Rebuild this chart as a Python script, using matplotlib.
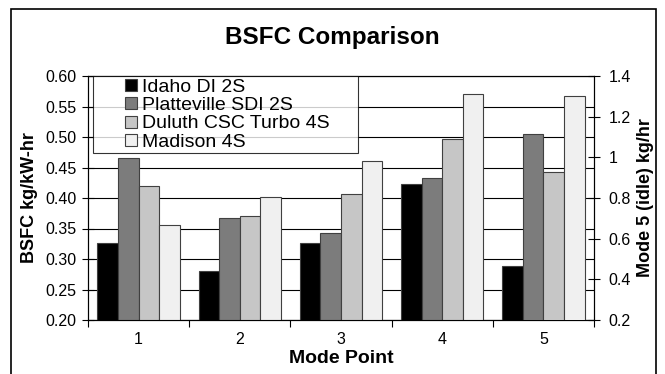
import numpy as np
import matplotlib
matplotlib.use("Agg")
import matplotlib.pyplot as plt
from matplotlib.patches import Rectangle
from matplotlib.lines import Line2D

plt.rcParams['font.family'] = ['Liberation Sans', 'DejaVu Sans']

# data
modes = ['1', '2', '3', '4', '5']
series = ['Idaho DI 2S', 'Platteville SDI 2S', 'Duluth CSC Turbo 4S', 'Madison 4S']
# modes 1-4: BSFC kg/kW-hr (left axis)
idaho = [0.326, 0.281, 0.327, 0.423]
platteville = [0.466, 0.367, 0.343, 0.433]
duluth = [0.420, 0.371, 0.406, 0.496]
madison = [0.355, 0.402, 0.461, 0.571]
# mode 5 (idle): kg/hr (right axis)
mode5 = [0.465, 1.117, 0.927, 1.303]

colors = ['#000000', '#7c7c7c', '#c6c6c6', '#f0f0f0']
edge = '#404040'

fig = plt.figure(figsize=(6.65, 3.74), dpi=100)
ax = fig.add_axes([88 / 665, 1 - 320 / 374, 506 / 665, 244 / 374])
ax2 = ax.twinx()

x = np.arange(1, 5)
w = 0.204
vals = [idaho, platteville, duluth, madison]
for i in range(4):
    off = (i - 1.5) * w
    ax.bar(x + off, vals[i], w, color=colors[i], edgecolor=edge,
           linewidth=0.8, zorder=3)
    ax2.bar(5 + off, mode5[i], w, color=colors[i], edgecolor=edge,
            linewidth=0.8, zorder=3)

ax.set_xlim(0.5, 5.5)
ax.set_ylim(0.20, 0.60)
ax2.set_ylim(0.2, 1.4)
yt = np.arange(0.20, 0.601, 0.05)
ax.set_yticks(yt)
ax.set_yticklabels(['%.2f' % v for v in yt])
ax2.set_yticks([0.2, 0.4, 0.6, 0.8, 1.0, 1.2, 1.4])
ax2.set_yticklabels(['0.2', '0.4', '0.6', '0.8', '1', '1.2', '1.4'])
ax.set_xticks(range(1, 6))
ax.set_xticklabels(modes)
ax.set_xticks(np.arange(0.5, 5.6, 1.0), minor=True)
ax.tick_params(axis='x', which='major', length=0, labelsize=11.5, pad=9)
ax.tick_params(axis='x', which='minor', direction='out', length=5, width=0.8)
ax.tick_params(axis='y', direction='inout', length=9, width=0.8, labelsize=11.5, pad=4)
ax2.tick_params(axis='y', direction='inout', length=9, width=0.8, labelsize=11.5, pad=6)
ax.grid(axis='y', color='black', linewidth=0.8, zorder=0)
ax.set_axisbelow(True)
for a in (ax, ax2):
    for sp in a.spines.values():
        sp.set_linewidth(0.8)

ax.set_ylabel('BSFC kg/kW-hr', fontsize=13, fontweight='bold', labelpad=5)
ax2.set_ylabel('Mode 5 (idle) kg/hr', fontsize=13, fontweight='bold', labelpad=4)
ax.set_xlabel('Mode Point', fontsize=14, fontweight='bold', labelpad=2)
fig.text(0.5, 0.9, 'BSFC Comparison', ha='center', va='center',
         fontsize=17.5, fontweight='bold')

handles = [Line2D([], [], linestyle='None', marker='s', markersize=8,
                  markerfacecolor=c, markeredgecolor=edge, markeredgewidth=0.8)
           for c in colors]
leg = ax2.legend(handles, series, loc='upper left',
                 bbox_to_anchor=(5 / 506, 0.0, 265 / 506, 1.0), mode='expand',
                 fontsize=14, frameon=True, fancybox=False, edgecolor='black',
                 handlelength=3.7, handletextpad=-1.28, numpoints=1,
                 labelspacing=0.03, borderpad=0.12, borderaxespad=0)
leg.get_frame().set_linewidth(0.8)
leg.set_zorder(10)

# outer chart border (bottom edge lies below the image)
fig.patches.append(Rectangle((11 / 665, -0.05), 645 / 665, 1.05 - 9 / 374,
                             transform=fig.transFigure, fill=False,
                             edgecolor='black', linewidth=1.2))

fig.savefig('out.png', dpi=100)
